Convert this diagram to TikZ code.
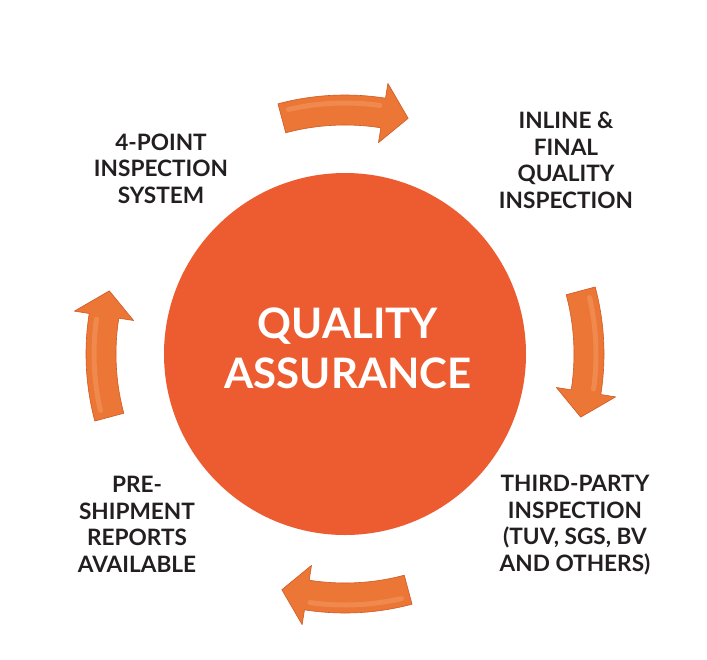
\documentclass[tikz,border=0pt]{standalone}
\usepackage{fontspec}
\setmainfont{Lato}
\definecolor{qacircle}{HTML}{ED5C31}
\definecolor{qaarrow}{HTML}{EB7636}
\definecolor{qaedge}{HTML}{CF5A22}
\definecolor{qalight}{HTML}{F49A62}
\definecolor{qatext}{HTML}{231F20}
\newcommand\qaArrow[2]{% tail angle, tip angle (clockwise arrows)
  \pgfmathsetmacro\qaB{#2+6}%
  \fill[qaarrow,draw=qaedge,line width=0.6pt,line join=round]
    (#1:259) arc[start angle=#1, end angle=\qaB, radius=259]
    -- (\qaB:274) -- (#2:244) -- (\qaB:214) -- (\qaB:229)
    arc[start angle=\qaB, end angle=#1, radius=229] -- cycle;
  \pgfmathsetmacro\qaS{#1-2}%
  \pgfmathsetmacro\qaE{\qaB+1}%
  \draw[qalight,line width=5pt,line cap=round,opacity=0.55]
    (\qaS:251) arc[start angle=\qaS, end angle=\qaE, radius=251];
}
\tikzset{
  qalabel/.style={font=\bfseries\fontsize{22.6}{26.5}\selectfont, text=qatext, align=center, inner sep=0pt, anchor=base},
  qatitle/.style={font=\bfseries\fontsize{42}{50}\selectfont, text=white, align=center, inner sep=0pt, anchor=base}
}
\begin{document}
\begin{tikzpicture}[x=1pt,y=1pt]
\useasboundingbox[fill=white] (0,-659) rectangle (707,0);
\coordinate (c) at (345,-354);
\fill[qacircle] (c) circle[radius=181];
\begin{scope}[shift={(c)}]
  \qaArrow{105}{75}
  \qaArrow{15}{-15}
  \qaArrow{-75}{-105}
  \qaArrow{195}{165}
\end{scope}
% base anchor = baseline of the last line
\node[qatitle] (title) at (348,-388) {QUALITY\\ASSURANCE};
\node[qalabel] (fourpoint) at (161,-203) {4-POINT\\INSPECTION\\SYSTEM};
\node[qalabel] (inline) at (566,-208) {INLINE \&\\FINAL\\QUALITY\\INSPECTION};
\node[qalabel] (thirdparty) at (575,-571) {THIRD-PARTY\\INSPECTION\\(TUV, SGS, BV\\AND OTHERS)};
\node[qalabel] (preship) at (137,-572) {PRE-\\SHIPMENT\\REPORTS\\AVAILABLE};
\end{tikzpicture}
\end{document}
